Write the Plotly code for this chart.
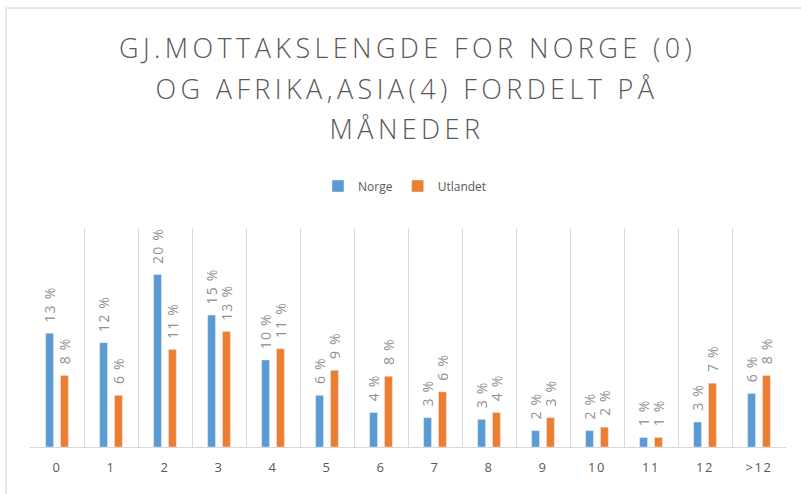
import plotly.graph_objects as go

categories = ["0", "1", "2", "3", "4", "5", "6", "7", "8", "9", "10", "11", "12", ">12"]
norge = [13.2, 12.1, 20.0, 15.3, 10.1, 6.0, 4.0, 3.4, 3.2, 1.9, 1.9, 1.1, 2.9, 6.2]
utlandet = [8.3, 6.0, 11.3, 13.4, 11.4, 8.9, 8.2, 6.4, 4.0, 3.4, 2.3, 1.1, 7.4, 8.3]
title_lines = ["GJ.MOTTAKSLENGDE FOR NORGE (0)", "OG AFRIKA,ASIA(4) FORDELT PÅ", "MÅNEDER"]

W, H = 801, 494
L, R, T, B = 30, 15, 228, 47
pw, ph = W - L - R, H - T - B

def px(x):
    return (x - L) / pw

def py(y):
    return (H - B - y) / ph

FONT = "Open Sans, sans-serif"
lab_font = dict(family=FONT, size=14, color="#8f8f8f")

fig = go.Figure()
fig.add_trace(go.Bar(name="Norge", x=categories, y=norge, marker_color="#5B9BD5"))
fig.add_trace(go.Bar(name="Utlandet", x=categories, y=utlandet, marker_color="#ED7D31"))

annotations = []
for line, yy in zip(title_lines, [47, 88, 128]):
    annotations.append(dict(text=line, xref="paper", yref="paper", x=px(407), y=py(yy),
                            xanchor="center", yanchor="middle", showarrow=False,
                            font=dict(family=FONT, size=27, color="#595959", weight=300)))

for series, shift in ((norge, -7.5), (utlandet, 7.5)):
    for c, v in zip(categories, series):
        annotations.append(dict(text=f"{v:.0f} %", x=c, y=v, xref="x", yref="y",
                                xshift=shift, yshift=11, textangle=-90,
                                xanchor="center", yanchor="bottom", showarrow=False,
                                font=lab_font))

shapes = [
    dict(type="line", xref="paper", yref="paper", x0=px(6), x1=px(801), y0=py(8), y1=py(8),
         line=dict(color="#d0d0d0", width=1)),
    dict(type="line", xref="paper", yref="paper", x0=px(6), x1=px(6), y0=py(8), y1=py(494),
         line=dict(color="#d0d0d0", width=1)),
]

fig.update_layout(
    width=W, height=H,
    margin=dict(l=L, r=R, t=T, b=B, pad=0),
    paper_bgcolor="white", plot_bgcolor="white",
    barmode="group", bargap=0.45, bargroupgap=0.47,
    showlegend=True,
    legend=dict(orientation="h", x=px(405), y=py(186), xanchor="center", yanchor="middle",
                font=dict(family=FONT, size=12, color="#595959"),
                itemwidth=30, traceorder="normal"),
    xaxis=dict(type="category", tickson="boundaries", showgrid=True, gridcolor="#d9d9d9",
               gridwidth=1, showline=True, linecolor="#d9d9d9", ticks="",
               ticklabelstandoff=8,
               tickfont=dict(family=FONT, size=13, color="#595959"),
               fixedrange=True),
    yaxis=dict(range=[0, 25.4], showgrid=False, showticklabels=False, zeroline=False,
               showline=False, fixedrange=True),
    annotations=annotations,
    shapes=shapes,
    font=dict(family=FONT),
)

post = """
document.body.style.margin = '0';
document.querySelectorAll('.annotation-text').forEach(function(e){
  var fs = parseFloat(e.style.fontSize);
  if (fs >= 20) { e.style.letterSpacing = '4.4px'; }
  else if (fs >= 14) { e.style.letterSpacing = '1.2px'; }
});
document.querySelectorAll('.xtick text').forEach(function(e){ e.style.letterSpacing = '1.5px'; });
"""

fig.write_html("out.html", post_script=post, config={"displayModeBar": False})
